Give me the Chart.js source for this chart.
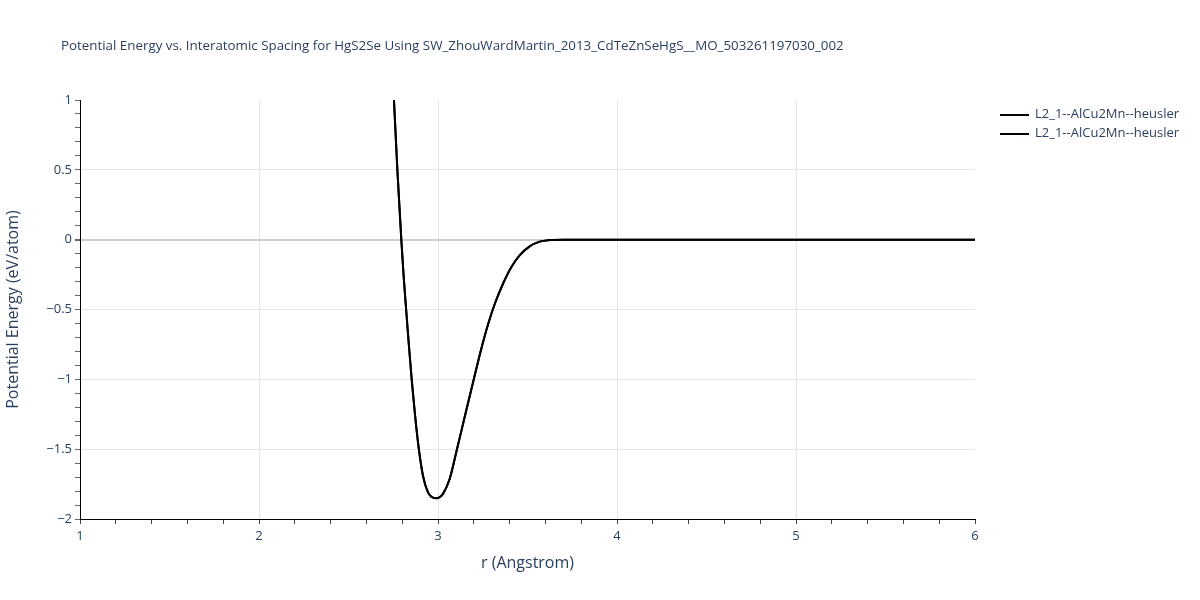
<!DOCTYPE html>
<html>
<head>
<meta charset="utf-8">
<script src="https://cdn.jsdelivr.net/npm/chart.js@4"></script>
<style>
  body { margin: 0; background: #fff; }
  #wrap { position: relative; width: 1200px; height: 600px; font-family: "Open Sans", verdana, arial, sans-serif; color: #2a3f5f; }
  #title { position: absolute; left: 61px; top: 36px; font-size: 13.35px; white-space: nowrap; }
  #legend { position: absolute; left: 1000px; top: 104px; font-size: 13px; }
  .item { height: 19px; line-height: 19px; white-space: nowrap; }
  .swatch { display: inline-block; width: 29px; height: 2px; background: #000; vertical-align: middle; margin-right: 6px; }
</style>
</head>
<body>
<div id="wrap">
  <canvas id="chartPE" width="1200" height="600"></canvas>
  <div id="title">Potential Energy vs. Interatomic Spacing for HgS2Se Using SW_ZhouWardMartin_2013_CdTeZnSeHgS__MO_503261197030_002</div>
  <div id="legend"></div>
</div>
<script>
const seriesNames = ["L2_1--AlCu2Mn--heusler", "L2_1--AlCu2Mn--heusler"];

// r in Angstrom, energy in eV/atom
const spacing = [2.745, 2.754, 2.773, 2.795, 2.808, 2.822, 2.837, 2.853, 2.872, 2.893, 2.916, 2.944, 2.965, 2.991,
  3.01, 3.028, 3.065, 3.106, 3.155, 3.2, 3.238, 3.281, 3.32, 3.365, 3.41, 3.456, 3.512, 3.568, 3.624, 3.7, 4, 5, 6];
const energyA = [1.23, 1.0, 0.5, 0.0, -0.26, -0.5, -0.75, -1.0, -1.26, -1.5, -1.69, -1.81, -1.843, -1.852,
  -1.843, -1.82, -1.714, -1.5, -1.238, -1.0, -0.8, -0.6, -0.45, -0.31, -0.195, -0.112, -0.048, -0.014, -0.003, 0, 0, 0, 0];
const energyB = [1.23, 1.0, 0.5, 0.0, -0.26, -0.5, -0.75, -1.0, -1.26, -1.5, -1.69, -1.81, -1.843, -1.852,
  -1.843, -1.82, -1.714, -1.5, -1.238, -1.0, -0.8, -0.6, -0.45, -0.31, -0.195, -0.112, -0.048, -0.014, -0.003, 0, 0, 0, 0];

const xTicks = [1, 2, 3, 4, 5, 6];
const yTicks = [1, 0.5, 0, -0.5, -1, -1.5, -2];

Chart.defaults.font.family = '"Open Sans", verdana, arial, sans-serif';
Chart.defaults.color = "#2a3f5f";

const near = (v, list) => list.some((t) => Math.abs(t - v) < 1e-6);
const fmt = (v) => (v < 0 ? "\u2212" : "") + Math.abs(v);

const toPoints = (ys) => spacing.map((r, i) => ({ x: r, y: ys[i] }));

const runChartPE = () => {
  const ctx = document.getElementById("chartPE").getContext("2d");
  const myChart = new Chart(ctx, {
    type: "line",
    data: {
      datasets: [
        {
          label: seriesNames[0],
          data: toPoints(energyA),
          borderColor: "#000",
          borderWidth: 2,
          pointRadius: 0,
          cubicInterpolationMode: "monotone",
        },
        {
          label: seriesNames[1],
          data: toPoints(energyB),
          borderColor: "#000",
          borderWidth: 2,
          pointRadius: 0,
          cubicInterpolationMode: "monotone",
        },
      ],
    },
    options: {
      responsive: false,
      animation: false,
      layout: { padding: { top: 100, right: 225, bottom: 0, left: 0 } },
      plugins: {
        legend: { display: false },
        title: { display: false },
        tooltip: { enabled: false },
      },
      scales: {
        x: {
          type: "linear",
          min: 1,
          max: 6,
          afterFit: (scale) => { scale.height = 81; },
          border: { display: true, color: "#000", width: 1 },
          grid: {
            color: (c) => (near(c.tick.value, [2, 3, 4, 5]) ? "#e6e6e6" : "transparent"),
            tickColor: "#444",
            tickLength: 5,
          },
          ticks: {
            stepSize: 0.2,
            autoSkip: false,
            maxRotation: 0,
            padding: 4,
            font: { size: 13 },
            callback: (v) => (near(v, xTicks) ? fmt(Math.round(v)) : ""),
          },
          title: {
            display: true,
            text: "r (Angstrom)",
            font: { size: 16 },
            padding: { top: 0, bottom: 27 },
          },
        },
        y: {
          min: -2,
          max: 1,
          afterFit: (scale) => { scale.width = 80; },
          border: { display: true, color: "#000", width: 1 },
          grid: {
            color: (c) => {
              const v = c.tick.value;
              if (Math.abs(v) < 1e-6) return "#cfcfcf";
              return near(v, [0.5, -0.5, -1, -1.5]) ? "#e6e6e6" : "transparent";
            },
            lineWidth: (c) => (Math.abs(c.tick.value) < 1e-6 ? 2 : 1),
            tickColor: "#666",
            tickLength: 5,
          },
          ticks: {
            stepSize: 0.1,
            autoSkip: false,
            padding: 3,
            font: { size: 13 },
            callback: (v) => (near(v, yTicks) ? fmt(Math.round(v * 2) / 2) : ""),
          },
          title: {
            display: true,
            text: "Potential Energy (eV/atom)",
            font: { size: 16 },
            padding: { top: 4, bottom: 0 },
          },
        },
      },
    },
  });

  const legend = document.getElementById("legend");
  seriesNames.forEach((name) => {
    const row = document.createElement("div");
    row.className = "item";
    row.innerHTML = '<span class="swatch"></span>' + name;
    legend.appendChild(row);
  });
};

runChartPE();
</script>
</body>
</html>
